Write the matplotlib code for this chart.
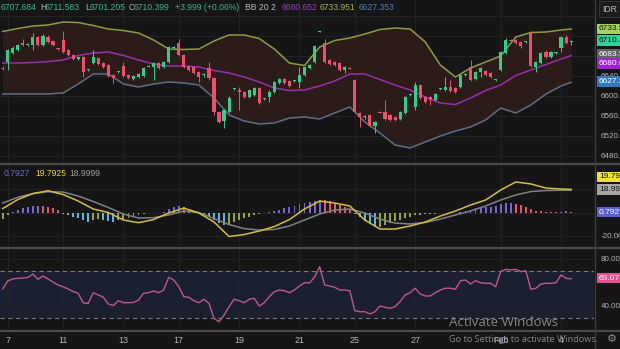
import matplotlib
matplotlib.use('Agg')
import matplotlib.pyplot as plt
from matplotlib.lines import Line2D

plt.rcParams['font.family'] = ['Liberation Sans', 'DejaVu Sans']

# ---- 4h candles, 7 Jan - 4 Feb ----
opens = [6656, 6668, 6686, 6692, 6706, 6703, 6702, 6718, 6702, 6718,
         6710, 6695, 6712, 6692, 6682, 6674, 6678, 6652, 6666, 6676,
         6666, 6662, 6642, 6648, 6660, 6642, 6634, 6638, 6640, 6659,
         6658, 6666, 6658, 6668, 6696, 6706, 6682, 6660, 6658, 6648,
         6642, 6656, 6636, 6568, 6550, 6568, 6614, 6612, 6608, 6598,
         6602, 6616, 6594, 6598, 6608, 6626, 6634, 6630, 6630, 6628,
         6642, 6656, 6668, 6729, 6706, 6672, 6668, 6666, 6652, 6656,
         6632, 6566, 6558, 6562, 6540, 6568, 6568, 6562, 6558, 6554,
         6566, 6602, 6578, 6622, 6598, 6598, 6592, 6614, 6612, 6618,
         6616, 6618, 6642, 6658, 6634, 6648, 6650, 6646, 6632, 6652,
         6686, 6712, 6712, 6708, 6708, 6728, 6658, 6666, 6688, 6678,
         6686, 6696, 6718, 6707.684]
highs = [6660, 6694, 6700, 6704, 6714, 6706, 6726, 6720, 6724, 6722,
         6712, 6696, 6730, 6694, 6684, 6680, 6680, 6654, 6692, 6678,
         6668, 6664, 6644, 6650, 6668, 6644, 6642, 6646, 6658, 6662,
         6668, 6668, 6670, 6700, 6700, 6714, 6684, 6662, 6660, 6650,
         6646, 6668, 6638, 6570, 6574, 6600, 6616, 6618, 6610, 6614,
         6618, 6618, 6596, 6612, 6630, 6636, 6636, 6632, 6632, 6658,
         6660, 6664, 6702, 6731, 6714, 6674, 6670, 6668, 6660, 6658,
         6634, 6568, 6562, 6564, 6550, 6570, 6592, 6564, 6560, 6570,
         6600, 6604, 6628, 6624, 6600, 6600, 6606, 6616, 6638, 6632,
         6618, 6644, 6646, 6672, 6650, 6658, 6652, 6648, 6634, 6690,
         6716, 6714, 6714, 6710, 6710, 6730, 6670, 6688, 6692, 6690,
         6688, 6720, 6722, 6711.583]
lows = [6652, 6652, 6684, 6690, 6700, 6700, 6692, 6700, 6700, 6706,
        6700, 6692, 6686, 6680, 6672, 6672, 6638, 6650, 6664, 6662,
        6656, 6638, 6626, 6646, 6638, 6634, 6632, 6636, 6638, 6658,
        6632, 6654, 6656, 6666, 6694, 6680, 6656, 6650, 6644, 6628,
        6638, 6632, 6562, 6546, 6536, 6566, 6612, 6572, 6596, 6596,
        6600, 6584, 6592, 6588, 6606, 6624, 6624, 6618, 6628, 6616,
        6640, 6654, 6666, 6728, 6666, 6662, 6660, 6650, 6646, 6654,
        6566, 6538, 6554, 6538, 6526, 6566, 6552, 6550, 6550, 6552,
        6564, 6600, 6572, 6594, 6586, 6582, 6590, 6612, 6610, 6608,
        6606, 6616, 6640, 6630, 6632, 6638, 6640, 6636, 6630, 6650,
        6684, 6710, 6704, 6696, 6706, 6658, 6648, 6664, 6676, 6676,
        6684, 6688, 6704, 6701.205]
closes = [6655, 6692, 6696, 6702, 6702, 6704, 6718, 6702, 6720, 6708,
          6702, 6694, 6688, 6682, 6674, 6678, 6648, 6653, 6678, 6664,
          6658, 6640, 6636, 6649, 6640, 6636, 6640, 6644, 6656, 6660,
          6666, 6656, 6668, 6698, 6697, 6682, 6658, 6652, 6646, 6638,
          6643, 6636, 6568, 6548, 6572, 6596, 6615, 6608, 6598, 6612,
          6616, 6586, 6595, 6608, 6628, 6634, 6626, 6620, 6631, 6642,
          6658, 6662, 6700, 6730, 6668, 6664, 6662, 6652, 6658, 6655,
          6568, 6558, 6559, 6540, 6548, 6567, 6554, 6552, 6552, 6568,
          6598, 6603, 6622, 6596, 6588, 6592, 6604, 6615, 6618, 6610,
          6608, 6642, 6643, 6632, 6648, 6656, 6642, 6638, 6633, 6688,
          6712, 6711, 6706, 6700, 6709, 6660, 6668, 6686, 6678, 6688,
          6687, 6718, 6706, 6710.399]

# Bollinger (20, 2), read every third bar
band_idx = [0, 3, 6, 9, 12, 15, 18, 21, 24, 27, 30, 33, 36, 39, 42, 45, 48,
            51, 54, 57, 60, 63, 66, 69, 72, 75, 78, 81, 84, 87, 90, 93, 96,
            99, 102, 105, 108, 111, 113]
bb_upper = [6729, 6735, 6740, 6742, 6748, 6747, 6741, 6734, 6731, 6726,
            6712, 6694, 6693, 6694, 6710, 6722, 6722, 6715, 6694, 6666,
            6661, 6698, 6711, 6716, 6724, 6733, 6736, 6734, 6708, 6662,
            6638, 6656, 6668, 6680, 6718, 6727, 6728, 6732, 6733.951]
bb_basis = [6666, 6666, 6667, 6669, 6672, 6681, 6686, 6688, 6681, 6672,
            6664, 6660, 6660, 6658, 6651, 6646, 6638, 6628, 6616, 6611,
            6612, 6620, 6630, 6644, 6644, 6633, 6622, 6612, 6598, 6586,
            6583, 6596, 6611, 6622, 6641, 6652, 6663, 6674, 6680.652]
bb_lower = [6604, 6604, 6604, 6604, 6606, 6624, 6644, 6644, 6624, 6618,
            6624, 6628, 6626, 6622, 6596, 6562, 6550, 6544, 6546, 6556,
            6558, 6554, 6566, 6578, 6548, 6526, 6502, 6496, 6508, 6520,
            6530, 6538, 6552, 6576, 6566, 6582, 6604, 6620, 6627.353]

# MACD (12, 26, 9)
macd_line = [3.4, 11.1, 16.2, 18.6, 15.4, 9.8, 3.0, 0.0, -6.4, -8.7,
             -6.0, -0.4, 3.8, -0.4, -8.1, -20.5, -18.8, -15.8, -12.0, -6.0,
             3.0, 9.8, 8.1, 5.6, -6.4, -14.1, -14.1, -11.5, -8.1, -3.0,
             1.3, 6.4, 10.7, 19.2, 26.1, 24.4, 20.9, 20.1, 19.7925]
macd_signal = [8.1, 13.0, 16.2, 17.8, 17.5, 14.1, 9.4, 4.3, -1.3, -4.7,
               -4.4, -2.1, 1.3, 0.0, -5.1, -10.3, -13.7, -15.0, -14.5, -11.5,
               -6.4, -1.3, 2.1, 3.0, -0.4, -5.6, -9.0, -9.8, -8.5, -5.6,
               -2.1, 1.3, 5.6, 10.7, 15.0, 17.9, 18.8, 19.0, 18.9999]
macd_hist = [-5.5, -2.5, 0.3, 2.0, 3.5, 4.5, 5.5, 6.0, 5.5, 4.5,
             3.5, 2.0, -1.0, -2.5, -3.5, -5.0, -6.5, -8.0, -6.0, -5.5,
             -6.5, -7.5, -8.0, -6.5, -5.5, -4.5, -3.5, -2.5, -1.5, -0.5,
             -0.3, -0.2, 0.2, 3.0, 5.0, 6.0, 5.0, 3.0, 1.0, 0.2,
             -2.0, -4.0, -6.5, -9.0, -11.0, -9.5, -8.0, -6.5, -5.0, -3.5,
             -2.0, -1.0, -0.5, 0.3, 1.5, 2.5, 4.0, 5.0, 6.0, 7.0,
             8.0, 9.0, 10.0, 11.0, 10.5, 9.5, 8.0, 6.5, 5.0, 3.0,
             -1.0, -4.0, -7.0, -10.0, -12.5, -12.0, -10.5, -9.0, -7.5, -6.0,
             -4.5, -3.5, -2.5, -1.8, -1.5, -1.2, -1.0, -0.8, -0.5, -0.3,
             -0.2, 0.5, 1.5, 2.5, 3.5, 4.0, 4.5, 5.0, 5.5, 7.0,
             8.0, 8.5, 7.5, 6.5, 5.0, 3.0, 1.5, 1.0, 0.8, 0.6,
             0.5, 0.8, 0.9, 0.7927]

# RSI (14)
rsi = [54.5, 61.3, 63.0, 63.6, 63.8, 64.3, 67.2, 62.7, 65.5, 63.0,
       60.4, 57.9, 56.4, 54.5, 52.3, 50.8, 42.6, 42.3, 51.3, 49.4,
       47.4, 41.7, 40.4, 44.5, 42.8, 42.8, 43.0, 45.1, 50.8, 51.3,
       52.8, 51.3, 53.6, 64.4, 62.1, 56.4, 47.9, 47.4, 44.5, 42.8,
       45.7, 42.3, 29.5, 26.6, 32.3, 39.4, 45.7, 44.5, 42.8, 45.7,
       46.6, 40.0, 42.8, 47.9, 52.2, 53.6, 53.0, 51.3, 53.6, 57.0,
       59.8, 59.6, 64.7, 73.4, 57.9, 57.0, 55.9, 53.6, 53.6, 53.0,
       36.0, 35.1, 35.1, 33.2, 35.1, 40.0, 38.9, 38.0, 39.4, 43.7,
       49.4, 51.3, 55.1, 50.2, 48.5, 48.5, 51.3, 53.6, 55.1, 55.1,
       54.2, 61.5, 62.1, 58.7, 61.5, 59.8, 59.3, 59.3, 56.4, 69.2,
       71.2, 70.6, 71.2, 69.2, 70.0, 54.2, 55.1, 58.7, 59.3, 59.3,
       59.8, 66.4, 63.6, 63.07]

day_ticks = [1, 12, 24, 35, 47, 59, 70, 82, 99, 111]
day_labels = ['7', '11', '13', '17', '19', '21', '25', '27', 'Feb', '4']

# ---- styling ----
W, H = 620, 349
BG = '#151515'
GRID = '#232323'
TXT = '#b2b5be'
UP = '#2fcf8a'
DOWN = '#ef4f6a'


def px_rect(x, y, w, h):
    return [x / W, 1 - (y + h) / H, w / W, h / H]


def fy(y):
    return 1 - y / H


fig = plt.figure(figsize=(W / 100, H / 100), dpi=100, facecolor=BG)
ax1 = fig.add_axes(px_rect(0, 0, 594, 162))
ax2 = fig.add_axes(px_rect(0, 165, 594, 81))
ax3 = fig.add_axes(px_rect(0, 249, 594, 80))

for ax in (ax1, ax2, ax3):
    ax.set_facecolor(BG)
    for s in ax.spines.values():
        s.set_visible(False)
    ax.set_xlim(-0.54, 117.55)
    ax.set_xticks(day_ticks)
    ax.grid(True, color=GRID, lw=0.7)
    ax.set_axisbelow(True)
    ax.yaxis.tick_right()
    ax.tick_params(axis='y', length=0, pad=5, labelsize=5.8, labelcolor=TXT)
    ax.tick_params(axis='x', length=0, labelbottom=False)

# main pane: bollinger + candles
ax1.set_ylim(6468, 6792)
ax1.fill_between(band_idx, bb_lower, bb_upper, color='#2b1c1a', lw=0, zorder=1)
ax1.plot(band_idx, bb_upper, color='#8d9e44', lw=1.1, zorder=2)
ax1.plot(band_idx, bb_basis, color='#9b2fae', lw=1.1, zorder=2)
ax1.plot(band_idx, bb_lower, color='#5b7087', lw=1.1, zorder=2)
for i in range(len(opens)):
    o, c = opens[i], closes[i]
    col = UP if c >= o else DOWN
    ax1.vlines(i, lows[i], highs[i], color=col, lw=0.7, zorder=3)
    ax1.bar(i, max(abs(c - o), 1.2), bottom=min(o, c), width=0.62,
            color=col, lw=0, zorder=4)
ax1.set_yticks([6480, 6520, 6560, 6600, 6640, 6680, 6720, 6760])
ax1.set_yticklabels(['6480.0', '6520.0', '6560.0', '6600.0', '6640.0',
                     '', '', ''])

# MACD pane
ax2.set_ylim(-28.6, 40.6)
hist_cols = []
for i, h in enumerate(macd_hist):
    prev = macd_hist[i - 1] if i > 0 else h
    if h >= 0:
        hist_cols.append('#7468d8' if h >= prev else '#e0566a')
    else:
        hist_cols.append('#9aa33a' if h >= prev else '#5bb8e6')
ax2.bar(range(len(macd_hist)), macd_hist, width=0.38, color=hist_cols, lw=0, zorder=2)
ax2.plot(band_idx, macd_signal, color='#7f8288', lw=1.1, zorder=3)
ax2.plot(band_idx, macd_line, color='#d4bf3c', lw=1.1, zorder=4)
ax2.set_yticks([-20, 0, 20])
ax2.set_yticklabels(['-20.00', '', ''])

# RSI pane
ax3.set_ylim(20.4, 88.5)
ax3.axhspan(30, 70, color='#1b2030', lw=0, zorder=0.5)
for lvl in (30, 70):
    ax3.axhline(lvl, color='#7a7a7a', lw=0.8, dashes=(4, 3), zorder=1)
ax3.plot(range(len(rsi)), rsi, color='#c2568f', lw=1.0, zorder=3)
ax3.set_yticks([40, 80])
ax3.set_yticklabels(['40.00', '80.00'])
ax3.tick_params(axis='x', labelbottom=True, pad=5, labelsize=6.5, labelcolor=TXT)
ax3.set_xticklabels(day_labels)

# pane separators and price scale border
for y in (163.5, 247.5, 330.5):
    fig.add_artist(Line2D([0, 1], [fy(y), fy(y)], transform=fig.transFigure,
                          color='#4a4a4a', lw=1.6))
fig.add_artist(Line2D([594.5 / W, 594.5 / W], [0, 1], transform=fig.transFigure,
                      color='#3c3c3c', lw=1.0))

# legends
legend_top = [
    (1, '6707.684', '#3bb88a'), (40, 'H', TXT), (45, '6711.583', '#3bb88a'),
    (85, 'L', TXT), (90, '6701.205', '#3bb88a'), (129, 'C', TXT),
    (134, '6710.399', '#3bb88a'), (175, '+3.999 (+0.06%)', '#3bb88a'),
    (245, 'BB 20 2', TXT), (282, '6680.652', '#9a3fb8'),
    (320, '6733.951', '#9bb354'), (359, '6627.353', '#4d7fb0'),
]
for x, t, c in legend_top:
    fig.text(x / W, fy(7.5), t, color=c, fontsize=6.2, va='center', ha='left')

legend_macd = [(4, '0.7927', '#6a68d0'), (35, '19.7925', '#e6d23c'),
               (69, '18.9999', '#9a9a9a')]
for x, t, c in legend_macd:
    fig.text(x / W, fy(173.5), t, color=c, fontsize=6.2, va='center', ha='left')

# price scale badges
badges = [
    (29, '6733.951', '#9fd65a', '#111111'),
    (40.5, '6710.399', '#2ed39a', '#111111'),
    (54, '6683.520', '#606266', '#ffffff'),
    (63.5, '6680.652', '#a31fd1', '#ffffff'),
    (81.5, '6627.353', '#2f79c2', '#ffffff'),
    (177, '19.7925', '#f4e03a', '#111111'),
    (189.5, '18.9999', '#a6a6a6', '#111111'),
    (212, '0.7927', '#5b5fd6', '#ffffff'),
    (278, '63.07', '#ec4f8f', '#ffffff'),
]
for y, t, bg, tc in badges:
    fig.text(599 / W, fy(y), t, color=tc, fontsize=6, va='center', ha='left',
             bbox=dict(boxstyle='square,pad=0.22', fc=bg, ec='none'))
fig.text(602 / W, fy(9), 'IDR', color=TXT, fontsize=6.2, va='center', ha='left',
         bbox=dict(boxstyle='square,pad=0.4', fc='#1c1c1c', ec='#3a3a3a', lw=0.6))

# windows watermark
fig.text(449 / W, fy(323), 'Activate Windows', color='#9a9a9a', fontsize=9.5,
         va='center', ha='left', family=['Open Sans', 'DejaVu Sans'], alpha=0.85)
fig.text(449 / W, fy(339), 'Go to Settings to activate Windows.', color='#9a9a9a',
         fontsize=6.6, va='center', ha='left', family=['Open Sans', 'DejaVu Sans'],
         alpha=0.85)
fig.text(612 / W, fy(339), '\u2699', color='#8a8a8a', fontsize=8, va='center',
         ha='center', family=['DejaVu Sans'])

fig.savefig('out.png', dpi=100, facecolor=BG)
